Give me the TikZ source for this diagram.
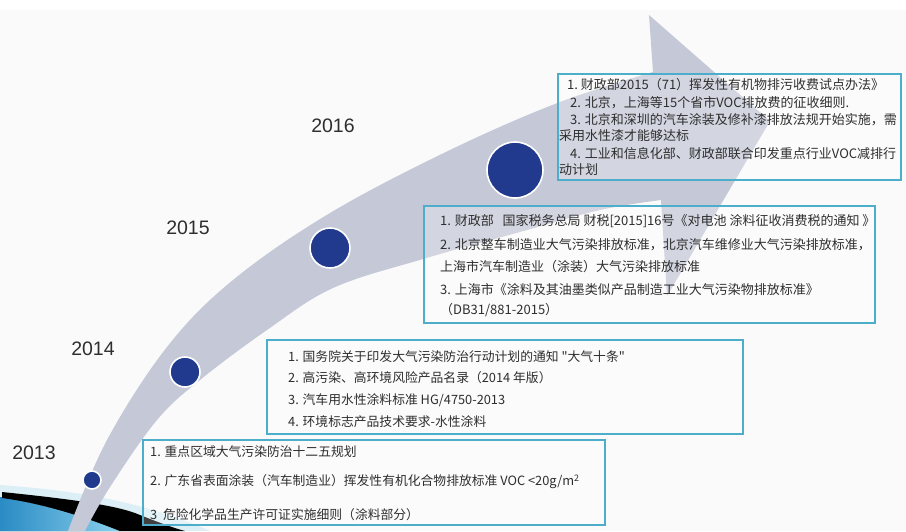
\documentclass[tikz,border=0pt]{standalone}
\usepackage{fontspec}
\setmainfont{Liberation Sans}
\newfontfamily\cjk{Noto Sans CJK SC}
\definecolor{bgc}{HTML}{FAFAFA}
\definecolor{bandc}{HTML}{C5C8D6}
\definecolor{navy}{HTML}{213A8E}
\definecolor{boxc}{HTML}{4DAECB}
\definecolor{txtc}{HTML}{2E2E2E}
\definecolor{blueA}{HTML}{2A8BC4}
\definecolor{blueB}{HTML}{8AD0EC}
\definecolor{paleblue}{HTML}{DCEFF6}
\begin{document}
\begin{tikzpicture}[x=1pt,y=-1pt,
  boxs/.style={draw=boxc,line width=1.5pt,fill=white,fill opacity=0.25,text opacity=1,inner sep=0pt},
  dot/.style={circle,fill=navy,draw=white,line width=1.6pt,inner sep=0pt},
  yr/.style={font=\fontsize{19.5}{22}\selectfont,text=txtc,inner sep=0pt},
  ta/.style={font=\cjk\fontsize{13}{15}\selectfont,text=txtc,anchor=west,inner sep=0pt},
  tc/.style={font=\cjk\fontsize{13}{15}\selectfont,text=txtc,anchor=west,inner sep=0pt},
  tb/.style={font=\cjk\fontsize{12.8}{15}\selectfont,text=txtc,anchor=west,inner sep=0pt}]
\useasboundingbox (0,0) rectangle (906,531);
\fill[white] (0,0) rectangle (906,531);
\fill[bgc] (0,10) rectangle (906,531);
% bottom-left decoration
\fill[paleblue] (0,485) .. controls (70,490) and (140,500) .. (210,531) -- (0,531) -- cycle;
\fill[left color=blueA,right color=blueB] (0,497) .. controls (40,504) and (80,514) .. (120,531) -- (0,531) -- cycle;
\fill[black] (2,492) .. controls (60,498) and (110,504) .. (135,513) .. controls (150,519) and (170,527) .. (185,531)
  -- (120,531) .. controls (80,515) and (40,503) .. (2,498) -- cycle;
% curved arrow band
\fill[bandc] plot[smooth,tension=0.6] coordinates {(68,531) (107,440) (167,347) (233,280) (330,213) (450,150) (560,102) (653,72)}
  -- (649,15) -- (770,121) -- (667,296) -- (661,200)
  -- plot[smooth,tension=0.6] coordinates {(661,200) (600,210) (520,232) (423,259) (333,288) (267,330) (200,380) (157,420) (110,487) (85,531)}
  -- cycle;
% milestones
\node[dot,minimum size=56pt] (c16) at (515,170) {};
\node[dot,minimum size=40pt] (c15) at (330,248) {};
\node[dot,minimum size=30pt] (c14) at (185,372) {};
\node[dot,minimum size=18pt] (c13) at (92,480) {};
% years
\node[yr] (y16) at (333,126) {2016};
\node[yr] (y15) at (188,228) {2015};
\node[yr] (y14) at (93,349) {2014};
\node[yr] (y13) at (34,453) {2013};
% boxes
\node[boxs,minimum width=343pt,minimum height=106pt] (b16) at (729.5,127) {};
\node[boxs,minimum width=451pt,minimum height=117pt] (b15) at (649.5,264.5) {};
\node[boxs,minimum width=476pt,minimum height=94pt] (b14) at (505,387) {};
\node[boxs,minimum width=462pt,minimum height=85pt] (b13) at (374,482.5) {};
% 2016 text
\node[ta] (t161) at (567,85) {1.\ 财政部2015（71）挥发性有机物排污收费试点办法》};
\node[ta] (t162) at (570,103) {2. 北京，上海等15个省市VOC排放费的征收细则.};
\node[ta] (t163) at (570,120) {3. 北京和深圳的汽车涂装及修补漆排放法规开始实施，需};
\node[ta] (t164) at (559,136) {采用水性漆才能够达标};
\node[ta] (t165) at (570,154) {4. 工业和信息化部、财政部联合印发重点行业VOC减排行};
\node[ta] (t166) at (559,170) {动计划};
% 2015 text
\node[tc] (t151) at (440,221) {1. 财政部\ \ \ 国家税务总局 财税[2015]16号《对电池 涂料征收消费税的通知 》};
\node[tc] (t152) at (440,245) {2. 北京整车制造业大气污染排放标准，北京汽车维修业大气污染排放标准，};
\node[tc] (t153) at (440,267) {上海市汽车制造业（涂装）大气污染排放标准};
\node[tc] (t154) at (440,290) {3. 上海市《涂料及其油墨类似产品制造工业大气污染物排放标准》};
\node[tc] (t155) at (440,310) {（DB31/881-2015）};
% 2014 text
\node[tb] (t141) at (288,357) {1. 国务院关于印发大气污染防治行动计划的通知 "大气十条"};
\node[tb] (t142) at (288,378) {2. 高污染、高环境风险产品名录（2014 年版）};
\node[tb] (t143) at (288,400) {3. 汽车用水性涂料标准 HG/4750-2013};
\node[tb] (t144) at (288,422) {4. 环境标志产品技术要求-水性涂料};
% 2013 text
\node[tb] (t131) at (150,452) {1. 重点区域大气污染防治十二五规划};
\node[tb] (t132) at (150,482) {2. 广东省表面涂装（汽车制造业）挥发性有机化合物排放标准 VOC <20g/m\textsuperscript{2}};
\node[tb] (t133) at (150,515) {3\ \ 危险化学品生产许可证实施细则（涂料部分）};
\end{tikzpicture}
\end{document}
